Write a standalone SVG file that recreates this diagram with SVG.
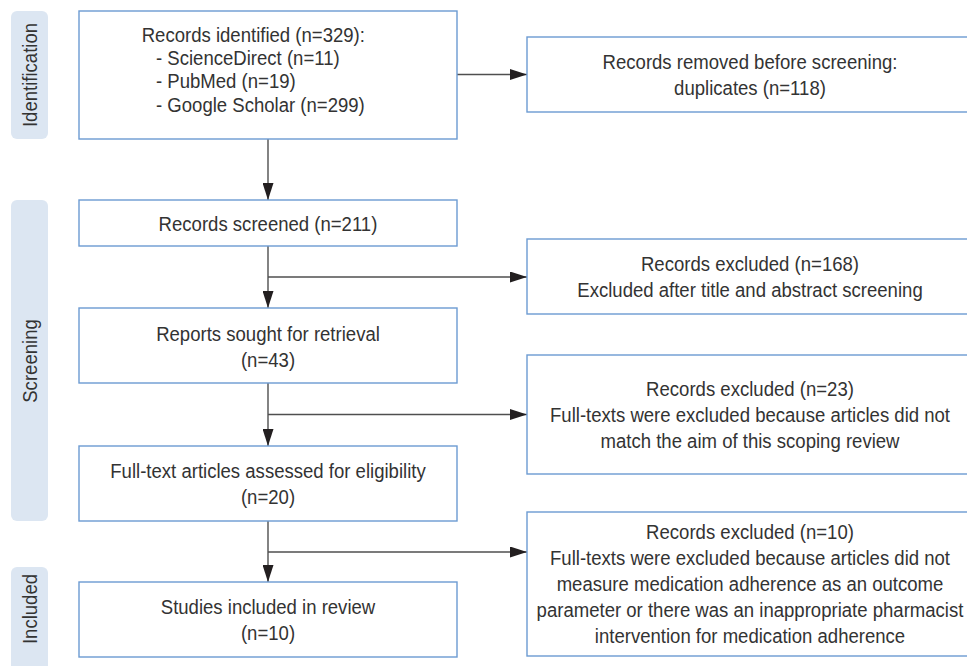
<svg xmlns="http://www.w3.org/2000/svg" width="967" height="666" viewBox="0 0 967 666">
<style>
.box{fill:#ffffff;stroke:#6c9bd2;stroke-width:1.4}
.pill{fill:#dce6f2;stroke:none}
.t{font-family:"Liberation Sans","Arial",sans-serif;font-size:20px;fill:#333333}
.c{text-anchor:middle}
.conn{fill:none;stroke:#4f4f4f;stroke-width:1.4}
</style>
<defs>
<marker id="ah" markerUnits="userSpaceOnUse" markerWidth="17" markerHeight="11" refX="17" refY="5.5" orient="auto">
<path d="M0,0 L17,5.5 L0,11 Z" fill="#231f20"/>
</marker>
</defs>
<rect width="967" height="666" fill="#ffffff"/>
<g id="stage-identification">
<rect class="pill" x="11" y="11" width="37" height="128" rx="6"/>
<text class="t c" transform="translate(36.5 75) rotate(-90) scale(0.928 1)">Identification</text>
</g>
<g id="stage-screening">
<rect class="pill" x="11" y="200" width="37" height="321" rx="6"/>
<text class="t c" transform="translate(36.5 361) rotate(-90) scale(0.928 1)">Screening</text>
</g>
<g id="stage-included">
<rect class="pill" x="11" y="567" width="37" height="120" rx="6"/>
<text class="t c" transform="translate(36.5 609) rotate(-90) scale(0.928 1)">Included</text>
</g>
<g id="connectors">
<line class="conn" x1="457" y1="74.5" x2="527" y2="74.5" marker-end="url(#ah)"/>
<line class="conn" x1="268" y1="139" x2="268" y2="200" marker-end="url(#ah)"/>
<line class="conn" x1="268" y1="246" x2="268" y2="308" marker-end="url(#ah)"/>
<line class="conn" x1="268" y1="277" x2="527" y2="277" marker-end="url(#ah)"/>
<line class="conn" x1="268" y1="383" x2="268" y2="446" marker-end="url(#ah)"/>
<line class="conn" x1="268" y1="414.5" x2="527" y2="414.5" marker-end="url(#ah)"/>
<line class="conn" x1="268" y1="521" x2="268" y2="582" marker-end="url(#ah)"/>
<line class="conn" x1="268" y1="552" x2="527" y2="552" marker-end="url(#ah)"/>
</g>
<g id="identified">
<rect class="box" x="79" y="11" width="378" height="128"/>
<text class="t" transform="translate(141.7 41.7) scale(0.928 1)">Records identified (n=329):</text>
<text class="t" transform="translate(156 65) scale(0.928 1)">- ScienceDirect (n=11)</text>
<text class="t" transform="translate(156 88.3) scale(0.928 1)">- PubMed (n=19)</text>
<text class="t" transform="translate(156 111.7) scale(0.928 1)">- Google Scholar (n=299)</text>
</g>
<g id="removed">
<rect class="box" x="527" y="37" width="450" height="75"/>
<text class="t c" transform="translate(750 68.6) scale(0.928 1)">Records removed before screening:</text>
<text class="t c" transform="translate(750 94.6) scale(0.928 1)">duplicates (n=118)</text>
</g>
<g id="screened">
<rect class="box" x="79" y="200" width="378" height="46"/>
<text class="t c" transform="translate(268 230.5) scale(0.928 1)">Records screened (n=211)</text>
</g>
<g id="excluded1">
<rect class="box" x="527" y="239" width="450" height="75"/>
<text class="t c" transform="translate(750 270.7) scale(0.928 1)">Records excluded (n=168)</text>
<text class="t c" transform="translate(750 296.7) scale(0.928 1)">Excluded after title and abstract screening</text>
</g>
<g id="sought">
<rect class="box" x="79" y="308" width="378" height="75"/>
<text class="t c" transform="translate(268 340.5) scale(0.928 1)">Reports sought for retrieval</text>
<text class="t c" transform="translate(268 366.5) scale(0.928 1)">(n=43)</text>
</g>
<g id="excluded2">
<rect class="box" x="527" y="355" width="450" height="119"/>
<text class="t c" transform="translate(750 395.7) scale(0.928 1)">Records excluded (n=23)</text>
<text class="t c" transform="translate(750 421.7) scale(0.928 1)">Full-texts were excluded because articles did not</text>
<text class="t c" transform="translate(750 447.7) scale(0.928 1)">match the aim of this scoping review</text>
</g>
<g id="assessed">
<rect class="box" x="79" y="446" width="378" height="75"/>
<text class="t c" transform="translate(268 478) scale(0.928 1)">Full-text articles assessed for eligibility</text>
<text class="t c" transform="translate(268 504) scale(0.928 1)">(n=20)</text>
</g>
<g id="excluded3">
<rect class="box" x="527" y="512" width="450" height="144"/>
<text class="t c" transform="translate(750 539) scale(0.928 1)">Records excluded (n=10)</text>
<text class="t c" transform="translate(750 565) scale(0.928 1)">Full-texts were excluded because articles did not</text>
<text class="t c" transform="translate(750 591) scale(0.928 1)">measure medication adherence as an outcome</text>
<text class="t c" transform="translate(750 617) scale(0.928 1)">parameter or there was an inappropriate pharmacist</text>
<text class="t c" transform="translate(750 643) scale(0.928 1)">intervention for medication adherence</text>
</g>
<g id="included">
<rect class="box" x="79" y="582" width="378" height="75"/>
<text class="t c" transform="translate(268 614) scale(0.928 1)">Studies included in review</text>
<text class="t c" transform="translate(268 640) scale(0.928 1)">(n=10)</text>
</g>
</svg>
